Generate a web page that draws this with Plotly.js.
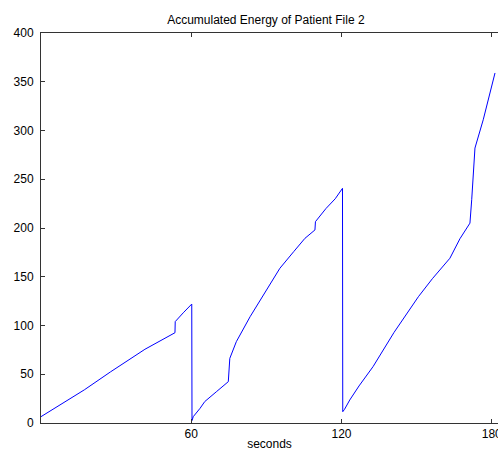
<!DOCTYPE html>
<html>
<head>
<meta charset="utf-8">
<script src="https://cdn.plot.ly/plotly-3.0.1.min.js"></script>
<style>html,body{margin:0;padding:0;background:#fff;}#chart{width:498px;height:451px;}</style>
</head>
<body>
<div id="chart"></div>
<script>
const seconds = [0, 8, 17.3, 27.8, 41.5, 53.5, 53.6, 56.8, 60.2, 60.3, 60.8, 63.5, 65.4, 70, 74.8, 75.4, 78, 83.5, 95.4, 101, 105.4, 109.4, 109.6, 113.8, 117.5, 120.4, 120.5, 121.2, 123.3, 127, 132.6, 141, 150.7, 156.3, 163.3, 167.3, 171.3, 172, 172.7, 173.3, 176.6, 181.3];
const energy  = [6.5, 19.5, 34, 52.5, 75.6, 92.6, 104, 113, 122, 2.5, 6.5, 15, 22, 32, 42.4, 66.3, 83.4, 109, 158.7, 176, 189.4, 198, 206.5, 220, 230, 240.7, 11.6, 14, 23.6, 38, 57.8, 93, 129.5, 148, 169, 189, 205, 229, 259, 282, 311, 359];
const xTicks = [60, 120, 180];
const yTicks = [0, 50, 100, 150, 200, 250, 300, 350, 400];

const font = {family: 'Liberation Sans, Arial, sans-serif', size: 12, color: '#000'};

Plotly.newPlot('chart', [{
  x: seconds, y: energy, type: 'scatter', mode: 'lines',
  line: {color: '#0000ff', width: 1}, hoverinfo: 'none'
}], {
  width: 498, height: 451,
  margin: {l: 41, r: 0, t: 33, b: 28, pad: 0},
  paper_bgcolor: '#fff', plot_bgcolor: '#fff',
  showlegend: false,
  font: font,
  title: {text: 'Accumulated Energy of Patient File 2', font: {family: font.family, size: 12, color: '#000'}, xref: 'paper', x: 0.492, xanchor: 'center', y: 1, yref: 'paper', yanchor: 'bottom', pad: {b: 9}},
  xaxis: {
    range: [0, 182.5], tickvals: xTicks, ticktext: xTicks.map(String),
    ticks: 'inside', ticklen: 4, tickcolor: '#333', showline: true, linecolor: '#333', linewidth: 1,
    mirror: 'ticks', showgrid: false, zeroline: false, ticklabeloverflow: 'allow',
    tickfont: {family: font.family, size: 12, color: '#000'},
    title: {text: 'seconds', font: {family: font.family, size: 12, color: '#000'}, standoff: 0}
  },
  yaxis: {
    range: [0, 400], tickvals: yTicks, ticktext: yTicks.map(String),
    ticks: 'inside', ticklen: 4, tickcolor: '#333', showline: true, linecolor: '#333', linewidth: 1,
    mirror: false, showgrid: false, zeroline: false, ticklabelstandoff: 4,
    tickfont: {family: font.family, size: 12, color: '#000'}
  }
}, {staticPlot: true});
</script>
</body>
</html>
